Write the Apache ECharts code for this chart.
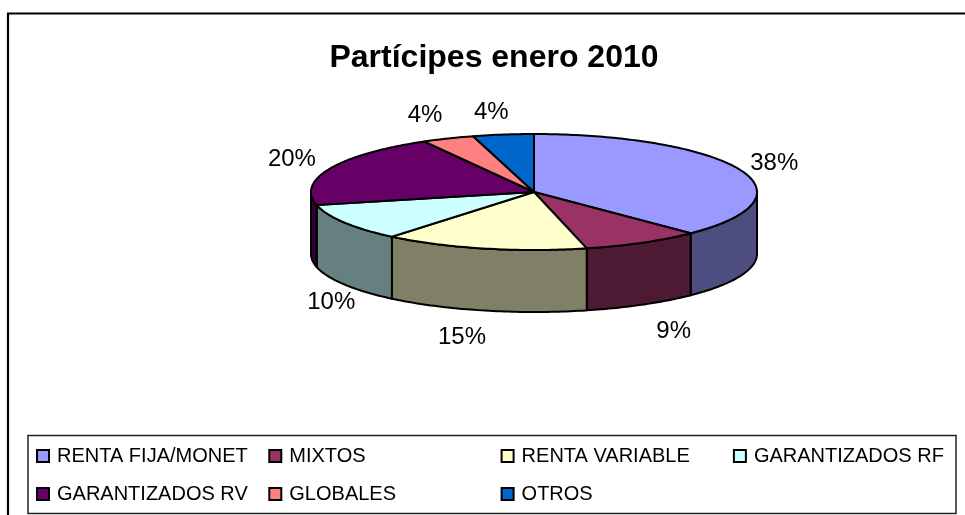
<!DOCTYPE html>
<html>
<head>
<meta charset="utf-8">
<style>html,body{margin:0;padding:0;background:#fff}#chart{width:965px;height:515px}</style>
<script src="https://cdn.jsdelivr.net/npm/echarts@6/dist/echarts.min.js"></script>
</head>
<body>
<div id="chart"></div>
<script>
var categories = ['RENTA FIJA/MONET', 'MIXTOS', 'RENTA VARIABLE', 'GARANTIZADOS RF', 'GARANTIZADOS RV', 'GLOBALES', 'OTROS'];
var values = [37.6, 8.6, 14.8, 10.4, 20.4, 3.8, 4.4];
var topColors = ['#9999FF', '#993366', '#FFFFCC', '#CCFFFF', '#660066', '#FF8080', '#0066CC'];
var sideColors = ['#4D4D80', '#4D1A33', '#808066', '#668080', '#330033', '#804040', '#003366'];
// label shift from the rim point at the slice's middle angle
var labelShift = [[34, -7], [31, 89], [-22, 89], [-13, 80], [-38, -9], [-23, -23], [-12, -22]];
// legend columns, as category indexes
var legendColumns = [[0, 4], [1, 5], [2, 6], [3]];

var cx = 534, cy = 192, rx = 223, ry = 58, depth = 62;
var fontName = '"Liberation Sans", Arial, sans-serif';
var total = values.reduce(function (a, b) { return a + b; }, 0);

// parametric angle on the ellipse, 0% is at 12 o'clock and goes clockwise
function angleAt(pct) {
    return pct / 100 * 2 * Math.PI - Math.PI / 2;
}
function rim(t, dy) {
    return [cx + rx * Math.cos(t), cy + ry * Math.sin(t) + (dy || 0)];
}

function renderSlice(index, params, api) {
    var before = 0;
    for (var i = 0; i < index; i++) before += values[i];
    var share = api.value(0) / total * 100;
    var start = angleAt(before / total * 100);
    var end = angleAt((before / total * 100) + share);
    var step = Math.PI / 180;
    var children = [];

    // side wall, only the part facing us (0..180deg)
    var ranges = [[start, end], [start - 2 * Math.PI, end - 2 * Math.PI]];
    ranges.forEach(function (r) {
        var a = Math.max(r[0], 0), b = Math.min(r[1], Math.PI);
        if (b <= a) return;
        var pts = [], t;
        for (t = a; t < b; t += step) pts.push(rim(t));
        pts.push(rim(b));
        for (t = b; t > a; t -= step) pts.push(rim(t, depth));
        pts.push(rim(a, depth));
        children.push({
            type: 'polygon',
            shape: { points: pts },
            style: { fill: sideColors[index], stroke: '#000', lineWidth: 2, lineJoin: 'round' }
        });
    });

    var top = [[cx, cy]];
    for (var t = start; t < end; t += step) top.push(rim(t));
    top.push(rim(end));
    children.push({
        type: 'polygon',
        shape: { points: top },
        style: { fill: topColors[index], stroke: '#000', lineWidth: 2, lineJoin: 'round' }
    });

    var mid = rim((start + end) / 2);
    children.push({
        type: 'text',
        x: mid[0] + labelShift[index][0],
        y: mid[1] + labelShift[index][1],
        style: {
            text: Math.round(share) + '%',
            fill: '#000',
            font: '24px ' + fontName,
            align: 'center',
            verticalAlign: 'middle'
        }
    });
    return { type: 'group', children: children };
}

var series = categories.map(function (name, i) {
    return {
        type: 'custom',
        name: name,
        coordinateSystem: 'none',
        silent: true,
        itemStyle: { color: topColors[i] },
        data: [[values[i]]],
        renderItem: function (params, api) { return renderSlice(i, params, api); }
    };
});

var legends = legendColumns.map(function (col, c) {
    return {
        orient: 'vertical',
        left: 36 + 232.3 * c,
        top: 446,
        padding: 0,
        itemGap: 18,
        itemWidth: 12,
        itemHeight: 12,
        icon: 'rect',
        selectedMode: false,
        itemStyle: { borderColor: '#000', borderWidth: 2 },
        formatter: '{n|{name}}',
        textStyle: {
            rich: {
                n: { fontFamily: fontName, fontSize: 20, color: '#000', padding: [0, 0, 0, 3] }
            }
        },
        data: col.map(function (i) { return categories[i]; })
    };
});

var chart = echarts.init(document.getElementById('chart'), null, { renderer: 'canvas' });
var option = {
    animation: false,
    backgroundColor: '#fff',
    color: topColors,
    title: {
        text: 'Partícipes enero 2010',
        left: 494,
        top: 42,
        textAlign: 'center',
        padding: 0,
        textStyle: { fontFamily: fontName, fontSize: 32, fontWeight: 'bold', color: '#000' }
    },
    legend: legends,
    graphic: [
        { type: 'line', silent: true, shape: { x1: 7, y1: 13.5, x2: 965, y2: 13.5 }, style: { stroke: '#000', lineWidth: 2.2 } },
        { type: 'line', silent: true, shape: { x1: 8, y1: 13, x2: 8, y2: 515 }, style: { stroke: '#000', lineWidth: 2.2 } },
        { type: 'rect', silent: true, shape: { x: 28, y: 435.5, width: 928, height: 78 }, style: { fill: 'none', stroke: '#222', lineWidth: 1.5 } }
    ],
    series: series
};
chart.setOption(option);
</script>
</body>
</html>
